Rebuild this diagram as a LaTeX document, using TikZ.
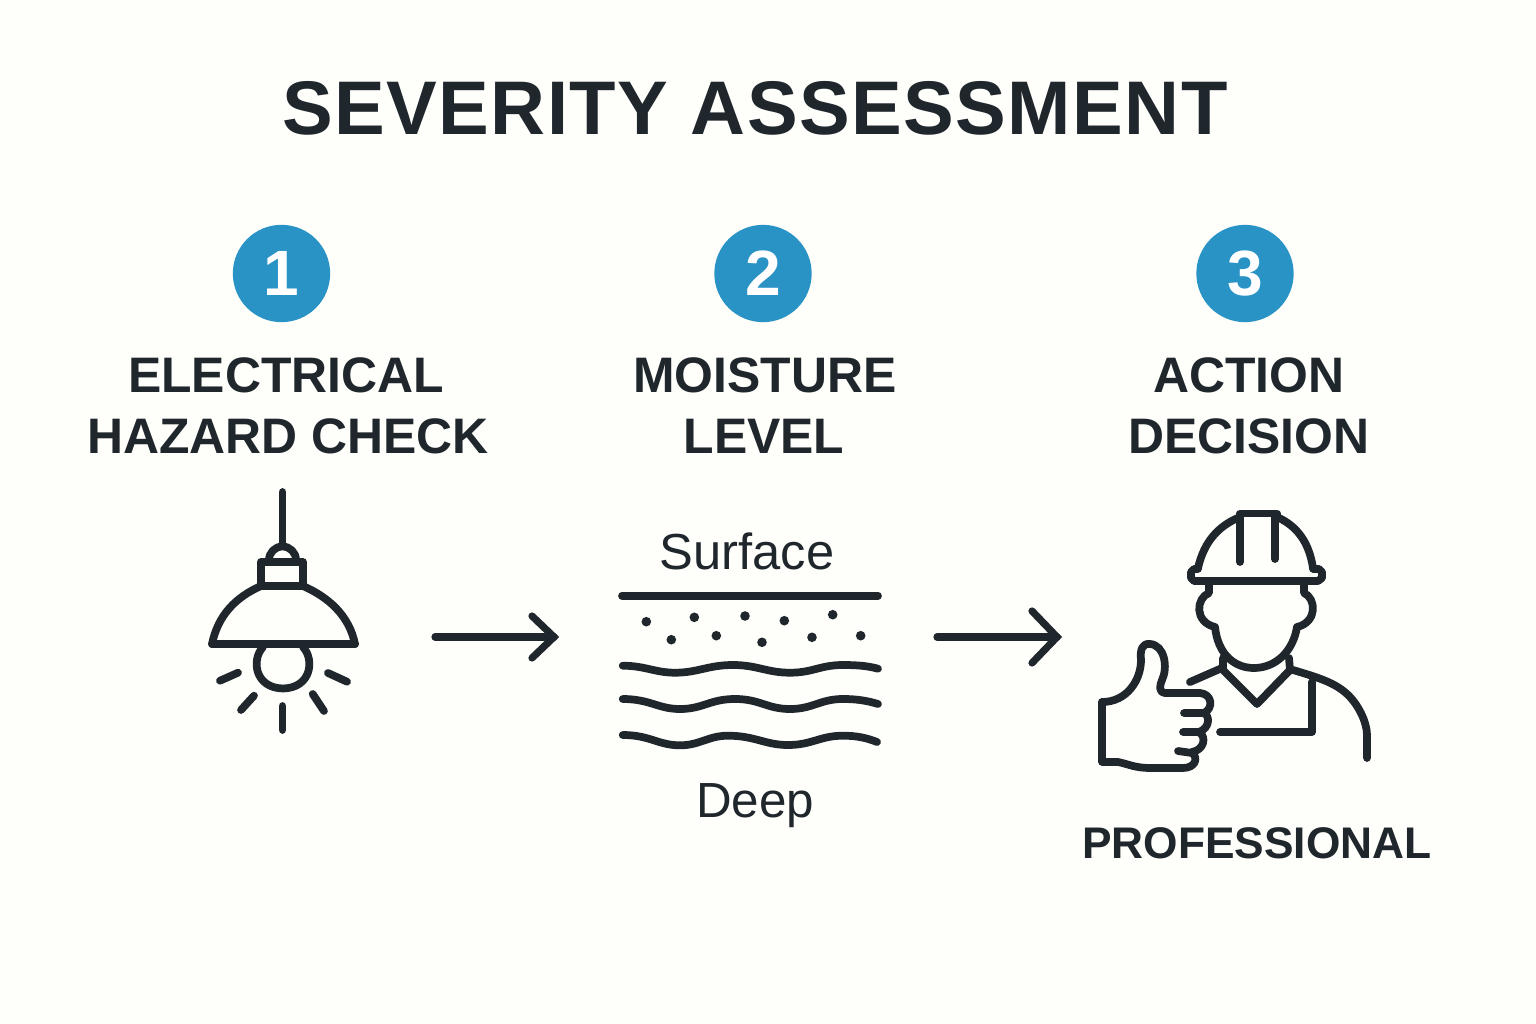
\documentclass[tikz,border=0pt]{standalone}
\usepackage{fontspec}
\setmainfont{Liberation Sans}
\definecolor{ink}{HTML}{1F262C}
\definecolor{paper}{HTML}{FEFEFB}
\definecolor{badge}{HTML}{2A93C6}
\newcommand{\hfont}{\fontsize{37.4}{38}\selectfont\bfseries}
\tikzset{
  icon/.style={draw=ink,line width=5.8pt,line cap=round,line join=round},
  arrowline/.style={draw=ink,line width=5.4pt,line cap=round,line join=miter},
  badgecirc/.style={circle,fill=badge,minimum size=73pt,inner sep=0pt,text=white,font=\fontsize{48}{48}\selectfont\bfseries},
  head/.style={text=ink,font=\hfont,inner sep=0pt,anchor=center},
  sub/.style={text=ink,font=\fontsize{38}{38}\selectfont,inner sep=0pt,anchor=center}
}
\begin{document}
\begin{tikzpicture}[x=0.75pt,y=-0.75pt]
\fill[paper] (0,0) rectangle (1536,1024);
\useasboundingbox (0,0) rectangle (1536,1024);
\node[text=ink,font=\fontsize{57}{57}\selectfont\bfseries\addfontfeature{LetterSpace=1.9},inner sep=0pt] (title) at (755,108) {SEVERITY ASSESSMENT};
\node[badgecirc] (b1) at (281.5,273.5) {1};
\node[badgecirc] (b2) at (763,273.5) {2};
\node[badgecirc] (b3) at (1245,273.5) {3};
\node[head] (h1a) at (286,375) {ELECTRICAL};
\node[head] (h1b) at (288,436) {HAZARD CHECK};
\node[head] (h2a) at (765,375) {MOISTURE};
\node[head] (h2b) at (764,436) {LEVEL};
\node[head] (h3a) at (1249,375) {ACTION};
\node[head] (h3b) at (1249,436) {DECISION};
\node[sub] (surface) at (747,551) {Surface};
\node[sub,font=\fontsize{37}{37}\selectfont] (deep) at (755,806) {Deep};
\node[head,font=\fontsize{33.2}{34}\selectfont\bfseries] (prof) at (1257,843) {PROFESSIONAL};
% lamp
\draw[icon] (282.5,492) -- (282.5,545);
\draw[icon] (269,560) arc (180:360:13.5);
\draw[icon] (261,562) -- (303,562) -- (303,586) -- (261,586) -- cycle;
\draw[icon] (212,644) .. controls (218,615) and (236,597) .. (261,586);
\draw[icon] (303,586) .. controls (328,597) and (349,615) .. (355,644);
\draw[icon] (212,644) -- (355,644);
\draw[icon] (263,647) .. controls (251,660) and (255,688) .. (283,688.5) .. controls (311,688) and (315,660) .. (303,647);
\draw[icon] (220,680.7) -- (238,672.7);
\draw[icon] (241,710) -- (254,695.7);
\draw[icon] (282.5,706) -- (282.5,730);
\draw[icon] (312.7,694) -- (324,711);
\draw[icon] (328,673) -- (347,681.7);
% moisture
\draw[icon] (622,595.7) -- (878,595.7);
\foreach \p/\q in {646.3/621.7,694.3/617.3,745/616,784.3/620.7,832.7/614.7,671.3/639.7,716.3/635.7,762/642.3,812/637.3,860.7/635.7}
  \fill[ink] (\p,\q) circle (4.8);
\draw[icon] (622.7,665.7) .. controls (645,665.7) and (655,672.7) .. (675,672.7) .. controls (698,672.7) and (708,665) .. (733,665) .. controls (757,665) and (767,672.7) .. (790,672.7) .. controls (813,672.7) and (820,665) .. (843,665) .. controls (858,665) and (868,666) .. (878,668.7);
\draw[icon] (622.7,699) .. controls (650,699) and (658,709) .. (680,709) .. controls (703,709) and (710,699) .. (735,699) .. controls (760,699) and (767,709) .. (790,709) .. controls (813,709) and (820,699) .. (843,699) .. controls (858,699) and (868,701) .. (878,704);
\draw[icon] (622.7,735) .. controls (650,735) and (658,745.3) .. (680,745.3) .. controls (700,745.3) and (708,735.7) .. (728,735.7) .. controls (755,735.7) and (765,745) .. (788,745) .. controls (812,745) and (820,735.7) .. (843,735.7) .. controls (857,735.7) and (867,738) .. (877,742);
% connectors
\coordinate (a1s) at (435,637); \coordinate (a1e) at (554,637);
\coordinate (a2s) at (937,637); \coordinate (a2e) at (1057,637);
\draw[arrowline] (a1s) -- (a1e);
\draw[arrowline] (532,616) -- (a1e) -- (532,658);
\draw[arrowline] (a2s) -- (a2e);
\draw[arrowline] (1032,611) -- (a2e) -- (1032,663);
% worker
\draw[icon] (1198,568) .. controls (1204,542) and (1218,526) .. (1240,517);
\draw[icon] (1277,517) .. controls (1297,526) and (1309,542) .. (1313,568);
\draw[icon] (1240,517) -- (1240,513.5) -- (1277,513.5) -- (1277,517);
\draw[icon] (1240,516) -- (1240,562);
\draw[icon] (1275,516) -- (1275,559);
\draw[icon] (1198,569) -- (1194,569) -- (1191,572) -- (1191,578) -- (1194,581) -- (1318,581) -- (1322,578) -- (1322,572) -- (1319,569) -- (1313,569);
\draw[icon] (1209,583) -- (1209,593) .. controls (1196,598) and (1194,622) .. (1215,627) .. controls (1218,655) and (1235,668) .. (1254,668) .. controls (1275,668) and (1293,652) .. (1297,627) .. controls (1318,622) and (1316,598) .. (1304,593) -- (1304,583);
\draw[icon] (1223,658) -- (1223,670) -- (1257,704) -- (1290,670) -- (1289,658);
\draw[icon] (1190,682) -- (1222,668);
\draw[icon] (1293,670) .. controls (1320,678) and (1335,683) .. (1347,694) .. controls (1358,704) and (1367,722) .. (1367,735) -- (1367,758);
\draw[icon] (1312,682) -- (1312,732) -- (1220,732);
\draw[icon] (1102,702) -- (1102,762) -- (1118,762) .. controls (1128,764) and (1135,768) .. (1150,768) -- (1183,768) .. controls (1195,768) and (1199,758) .. (1192,753) -- (1178,751);
\draw[icon] (1192,752) .. controls (1204,750) and (1207,737) .. (1199,732) -- (1183,732);
\draw[icon] (1199,732) .. controls (1210,728) and (1210,716) .. (1204,713) -- (1184,713);
\draw[icon] (1204,713) .. controls (1214,708) and (1212,694) .. (1200,693) -- (1165,693) .. controls (1158,692) and (1160,685) .. (1162,680) .. controls (1168,668) and (1165,645) .. (1150,644) .. controls (1142,643) and (1140,650) .. (1141,660) .. controls (1141,680) and (1127,702) .. (1102,702);
\end{tikzpicture}
\end{document}
